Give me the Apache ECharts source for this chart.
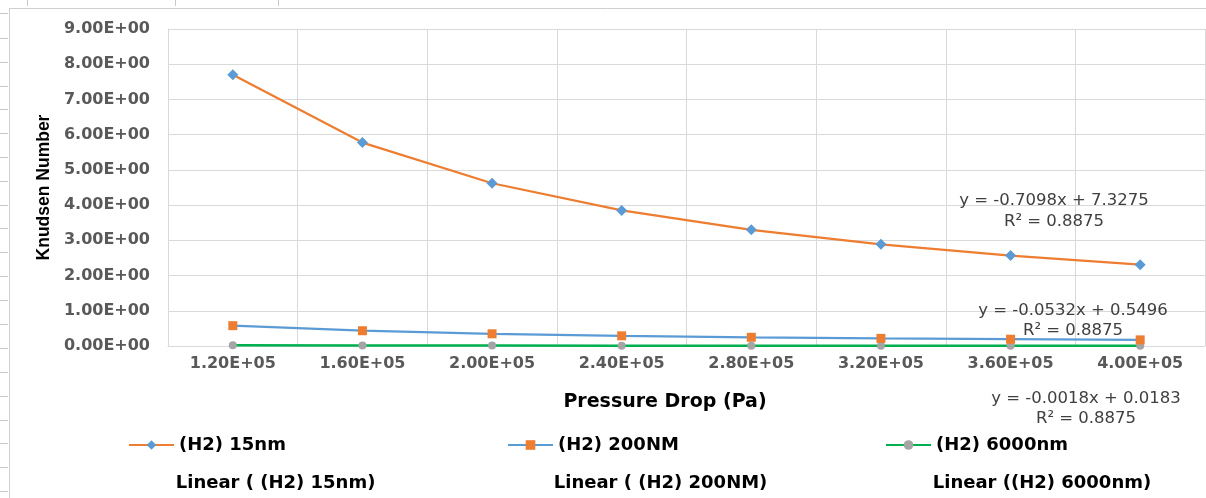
<!DOCTYPE html>
<html>
<head>
<meta charset="utf-8">
<script src="https://cdn.jsdelivr.net/npm/echarts@6/dist/echarts.min.js"></script>
<style>
html,body{margin:0;padding:0;background:#fff;}
#chart{width:1206px;height:498px;}
</style>
</head>
<body>
<div id="chart"></div>
<script>
// ---- data ----
const categories = ['1.20E+05','1.60E+05','2.00E+05','2.40E+05','2.80E+05','3.20E+05','3.60E+05','4.00E+05'];
const kn15 = [7.70, 5.775, 4.62, 3.85, 3.30, 2.8875, 2.567, 2.31];
const kn200 = [0.5775, 0.433, 0.3465, 0.289, 0.2475, 0.2166, 0.1925, 0.1733];
const kn6000 = [0.0193, 0.0144, 0.0116, 0.0096, 0.0083, 0.0072, 0.0064, 0.0058];
const seriesNames = ['(H2) 15nm', '(H2) 200NM', '(H2) 6000nm'];
const trendNames = ['Linear ( (H2) 15nm)', 'Linear ( (H2) 200NM)', 'Linear ((H2) 6000nm)'];
const trendEquations = ['y = -0.7098x + 7.3275', 'y = -0.0532x + 0.5496', 'y = -0.0018x + 0.0183'];
const trendR2 = ['R\u00B2 = 0.8875', 'R\u00B2 = 0.8875', 'R\u00B2 = 0.8875'];
const yTicks = {min: 0, max: 9, interval: 1};

const chart = echarts.init(document.getElementById('chart'), null, {renderer: 'canvas'});

const tickFont = {fontFamily: 'DejaVu Sans', fontWeight: 'bold', fontSize: 16, color: '#595959'};
const legendFont = {fontFamily: 'DejaVu Sans', fontWeight: 'bold', fontSize: 18, color: '#000000'};
const eqFont = {fontFamily: 'DejaVu Sans', fontSize: 16.5, fill: '#404040'};

function fmtSci(v) {
  if (v === 0) return '0.00E+00';
  const e = Math.floor(Math.log10(Math.abs(v)));
  const m = v / Math.pow(10, e);
  return m.toFixed(2) + 'E' + (e >= 0 ? '+' : '-') + String(Math.abs(e)).padStart(2, '0');
}

// frame artefacts (spreadsheet border)
const frame = [];
frame.push({type: 'line', shape: {x1: 9.5, y1: 8, x2: 9.5, y2: 498}, style: {stroke: '#d0d0d0', lineWidth: 1}, silent: true});
frame.push({type: 'line', shape: {x1: 9, y1: 8.5, x2: 1206, y2: 8.5}, style: {stroke: '#d0d0d0', lineWidth: 1}, silent: true});
const rowMarks = [13, 38, 62, 86, 109, 133, 157, 181, 205, 228, 252, 276, 300, 324, 348, 372, 396, 420, 443, 467, 491];
rowMarks.forEach(function (y) {
  frame.push({type: 'line', shape: {x1: 0, y1: y + 0.5, x2: 8, y2: y + 0.5}, style: {stroke: '#c8c8c8', lineWidth: 1}, silent: true});
});
[27, 175, 278].forEach(function (x) {
  frame.push({type: 'line', shape: {x1: x + 0.5, y1: 0, x2: x + 0.5, y2: 6}, style: {stroke: '#c8c8c8', lineWidth: 1}, silent: true});
});

// trendline equation annotations
const eqPos = [[1054, 201, 222], [1073, 311, 331], [1086, 399, 419]];
const eqTexts = [];
trendEquations.forEach(function (t, i) {
  eqTexts.push({type: 'text', x: eqPos[i][0], y: eqPos[i][1], style: Object.assign({text: t, textAlign: 'center', textVerticalAlign: 'middle'}, eqFont), z: 10});
  eqTexts.push({type: 'text', x: eqPos[i][0], y: eqPos[i][2], style: Object.assign({text: trendR2[i], textAlign: 'center', textVerticalAlign: 'middle'}, eqFont), z: 10});
});

function legendEntry(name, left, top, hiddenIcon) {
  const l = {
    show: true, left: left, top: top, orient: 'horizontal', padding: 0,
    itemWidth: hiddenIcon ? 2 : 45, itemHeight: 12, itemGap: 5,
    data: [name], textStyle: legendFont, selectedMode: false
  };
  if (hiddenIcon) { l.itemStyle = {opacity: 0}; l.lineStyle = {opacity: 0}; }
  return l;
}

const option = {
  animation: false,
  backgroundColor: '#ffffff',
  grid: {left: 168, right: 1, top: 29, bottom: 152, containLabel: false},
  xAxis: {
    type: 'category',
    data: categories,
    boundaryGap: true,
    axisLine: {show: true, lineStyle: {color: '#d9d9d9', width: 1}},
    axisTick: {show: false},
    axisLabel: Object.assign({margin: 10, interval: 0}, tickFont),
    splitLine: {show: true, lineStyle: {color: '#d9d9d9', width: 1}},
    name: 'Pressure Drop (Pa)',
    nameLocation: 'middle',
    nameGap: 47,
    nameTextStyle: {fontFamily: 'DejaVu Sans', fontWeight: 'bold', fontSize: 19, color: '#000000', padding: [0, 43, 0, 0]}
  },
  yAxis: {
    type: 'value',
    min: yTicks.min, max: yTicks.max, interval: yTicks.interval,
    axisLine: {show: true, lineStyle: {color: '#d9d9d9', width: 1}},
    axisTick: {show: false},
    axisLabel: Object.assign({margin: 18, formatter: fmtSci}, tickFont),
    splitLine: {show: true, lineStyle: {color: '#d9d9d9', width: 1}},
    name: 'Knudsen Number',
    nameLocation: 'middle',
    nameGap: 114,
    nameRotate: 90,
    nameTextStyle: {fontFamily: 'Liberation Sans', fontWeight: 'bold', fontSize: 17.5, color: '#000000'}
  },
  legend: [
    legendEntry(seriesNames[0], 128, 436, false),
    legendEntry(seriesNames[1], 507, 436, false),
    legendEntry(seriesNames[2], 885, 436, false),
    legendEntry(trendNames[0], 164, 474, true),
    legendEntry(trendNames[1], 542, 474, true),
    legendEntry(trendNames[2], 921, 474, true)
  ],
  series: [
    {
      name: seriesNames[0], type: 'line', data: kn15,
      symbol: 'diamond', symbolSize: 11, showSymbol: true,
      lineStyle: {color: '#ED7D31', width: 2.25},
      itemStyle: {color: '#5B9BD5'}, z: 3
    },
    {
      name: seriesNames[1], type: 'line', data: kn200,
      symbol: 'rect', symbolSize: 9, showSymbol: true,
      lineStyle: {color: '#5B9BD5', width: 2.25},
      itemStyle: {color: '#ED7D31'}, z: 3
    },
    {
      name: seriesNames[2], type: 'line', data: kn6000,
      symbol: 'circle', symbolSize: 8, showSymbol: true,
      lineStyle: {color: '#00B050', width: 2.5},
      itemStyle: {color: '#A5A5A5'}, z: 2
    },
    {name: trendNames[0], type: 'line', data: [], showSymbol: false, lineStyle: {color: '#ED7D31'}, itemStyle: {color: '#ED7D31'}},
    {name: trendNames[1], type: 'line', data: [], showSymbol: false, lineStyle: {color: '#5B9BD5'}, itemStyle: {color: '#5B9BD5'}},
    {name: trendNames[2], type: 'line', data: [], showSymbol: false, lineStyle: {color: '#00B050'}, itemStyle: {color: '#00B050'}}
  ],
  graphic: frame.concat(eqTexts)
};

chart.setOption(option);
</script>
</body>
</html>
